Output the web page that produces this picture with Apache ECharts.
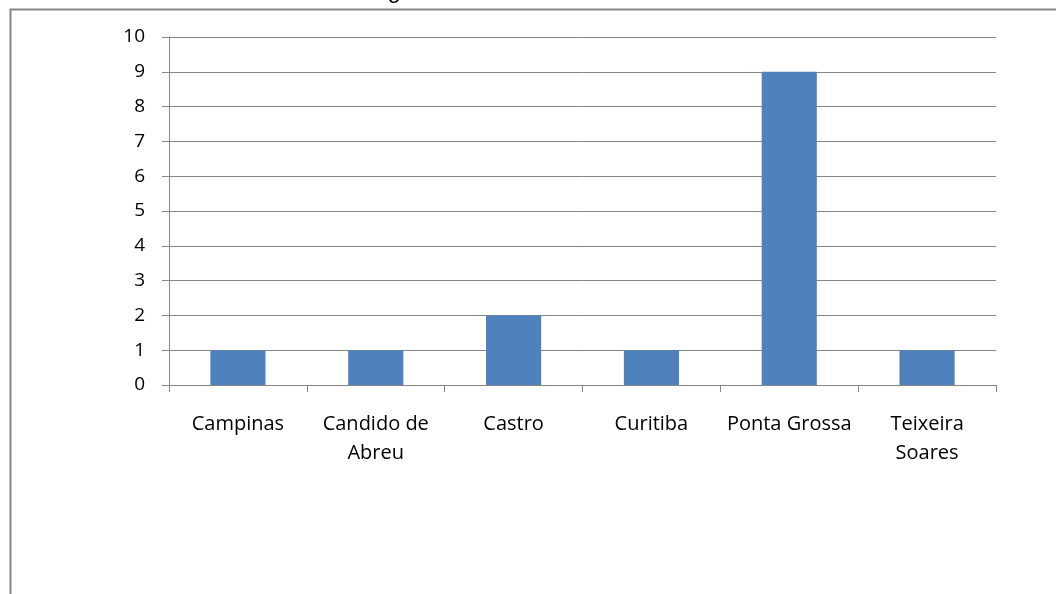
<!DOCTYPE html>
<html><head><meta charset="utf-8">
<script src="https://cdn.jsdelivr.net/npm/echarts@6/dist/echarts.min.js"></script>
<style>html,body{margin:0;padding:0;background:#fff}#c{width:1056px;height:594px}</style>
</head><body><div id="c"></div>
<script>
const titleText = "Gráfico 4 – Cidade onde atuam os egressos do curso de Licenciatura em Física da UEPG";
const categories = ["Campinas", "Candido de\nAbreu", "Castro", "Curitiba", "Ponta Grossa", "Teixeira\nSoares"];
const values = [1, 1, 2, 1, 9, 1];
const yTicks = [0, 10, 1];

const chart = echarts.init(document.getElementById('c'), null, {renderer: 'canvas'});
chart.setOption({
  animation: false,
  backgroundColor: '#fff',
  title: {
    text: titleText, left: 2, top: -21, padding: 0,
    textStyle: {fontFamily: 'Liberation Sans', fontSize: 24, fontWeight: 'normal', color: '#000'}
  },
  graphic: [{
    type: 'rect', left: 8, top: 7, z: -1,
    shape: {x: 0, y: 0, width: 1100, height: 640},
    style: {fill: 'none', stroke: '#868686', lineWidth: 2}
  }],
  grid: {left: 169, right: 60, top: 37, bottom: 209},
  xAxis: {
    type: 'category', data: categories,
    axisLine: {lineStyle: {color: '#868686', width: 1}},
    axisTick: {show: true, length: 7, alignWithLabel: false, lineStyle: {color: '#868686'}},
    axisLabel: {color: '#000', fontFamily: 'Open Sans, Liberation Sans', fontSize: 20, lineHeight: 29, margin: 25, interval: 0}
  },
  yAxis: {
    type: 'value', min: yTicks[0], max: yTicks[1], interval: yTicks[2],
    axisLine: {show: true, lineStyle: {color: '#868686'}},
    axisTick: {show: true, length: 7, lineStyle: {color: '#868686'}},
    splitLine: {lineStyle: {color: '#868686', width: 1}},
    axisLabel: {color: '#000', fontFamily: 'Open Sans, Liberation Sans', fontSize: 19, margin: 24}
  },
  series: [{
    type: 'bar', data: values, barWidth: '40%',
    itemStyle: {color: '#4f81bd'}
  }]
});
</script></body></html>
